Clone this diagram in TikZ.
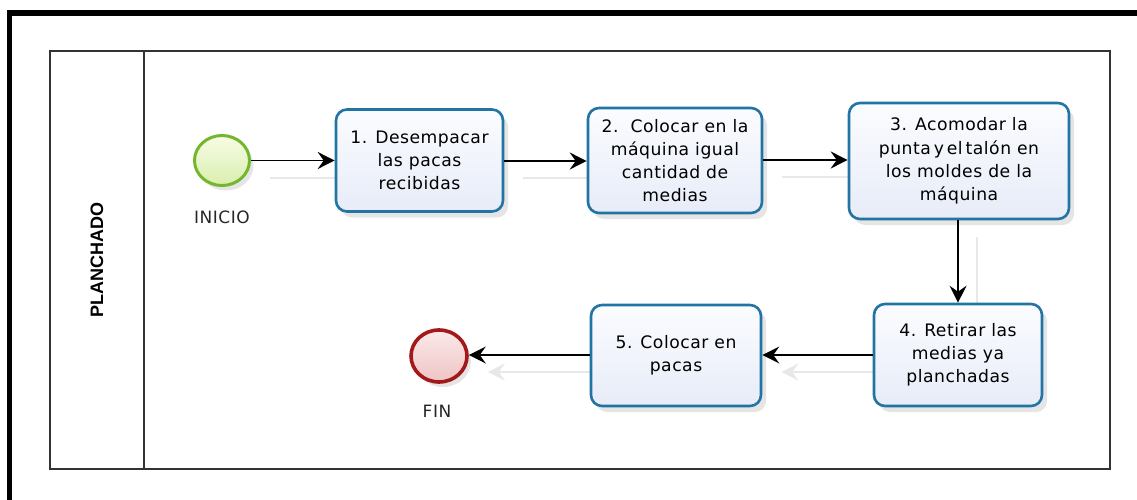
\documentclass[tikz,border=0pt]{standalone}
\usepackage{fontspec}
\setmainfont{DejaVu Sans}
\newfontfamily\boxfont[LetterSpace=3]{DejaVu Sans}
\newfontfamily\lanefont{Liberation Sans}
\usetikzlibrary{shapes.geometric,arrows.meta,shadows,backgrounds}
\definecolor{taskb}{HTML}{2274A5}
\definecolor{tasktop}{HTML}{FBFCFF}
\definecolor{taskbot}{HTML}{E7ECF8}
\definecolor{startb}{HTML}{74B72E}
\definecolor{starttop}{HTML}{F8FCE6}
\definecolor{startbot}{HTML}{D9EEAE}
\definecolor{endb}{HTML}{A31818}
\definecolor{endtop}{HTML}{FBE9E9}
\definecolor{endbot}{HTML}{EFC4C4}
\definecolor{poolc}{HTML}{333333}
\definecolor{shadowc}{HTML}{E8E8E8}
\begin{document}
\begin{tikzpicture}[x=1pt,y=-1pt,
  task/.style={draw=taskb, line width=2.6pt, rounded corners=11pt,
    top color=tasktop, bottom color=taskbot, align=center, inner sep=0pt,
    font=\boxfont\fontsize{17.2}{23.2}\selectfont, text=black,
    drop shadow={shadow xshift=5pt, shadow yshift=-6pt, opacity=0.10, fill=black}},
  startev/.style={ellipse, draw=startb, line width=3pt, top color=starttop, bottom color=startbot,
    minimum width=55pt, minimum height=50pt, inner sep=0pt,
    drop shadow={shadow xshift=4pt, shadow yshift=-5pt, opacity=0.10, fill=black}},
  endev/.style={ellipse, draw=endb, line width=3.6pt, top color=endtop, bottom color=endbot,
    minimum width=56pt, minimum height=52pt, inner sep=0pt,
    drop shadow={shadow xshift=4pt, shadow yshift=-5pt, opacity=0.10, fill=black}},
  evlabel/.style={font=\boxfont\fontsize{17}{18}\selectfont, text=black!85, inner sep=0pt},
  flow/.style={line width=1.5pt, -{Stealth[length=17pt,width=17pt,inset=6pt]}},
  flowshadow/.style={line width=2pt, draw=shadowc, -{Stealth[length=17pt,width=17pt,inset=6pt]}},
]
\useasboundingbox (0,0) rectangle (1137,500);
\begin{scope}
\clip (0,0) rectangle (1137,500);
\draw[line width=5.5pt] (9.5,520) -- (9.5,13) -- (1160,13);
\end{scope}

% pool and lane
\draw[draw=poolc, line width=1.6pt] (50,51) rectangle (1110,469);
\draw[draw=poolc, line width=1.6pt] (144,51) -- (144,469);
\node[rotate=90, font=\lanefont\bfseries\fontsize{18}{20}\selectfont, inner sep=0pt] (lane) at (97,260) {PLANCHADO};

% events
\node[startev] (start) at (222,160.5) {};
\node[evlabel] (startL) at (222,217) {INICIO};
\node[endev] (fin) at (439,356) {};
\node[evlabel] (finL) at (437,411.5) {FIN};

% tasks
\node[task, minimum width=167pt, minimum height=102pt] (t1) at (419.5,160.5)
  {1. Desempacar\\las pacas\\recibidas};
\node[task, minimum width=174pt, minimum height=105pt] (t2) at (675,160.5)
  {2.\ \ Colocar en la\\máquina igual\\cantidad de\\medias};
\node[task, minimum width=220pt, minimum height=116pt] (t3) at (959,161)
  {3. Acomodar la\\punta\,y\,el\,talón en\\los moldes de la\\máquina};
\node[task, minimum width=168pt, minimum height=102pt] (t4) at (958,355)
  {4. Retirar las\\medias ya\\planchadas};
\node[task, minimum width=170pt, minimum height=101pt] (t5) at (676,355.5)
  {5. Colocar en\\pacas};

% connector shadows
\begin{pgfonlayer}{background}
\begin{scope}[transform canvas={shift={(19pt,-17pt)}}]
\draw[flowshadow] (start.east) -- (t1.west |- start.east);
\draw[flowshadow] (t1.east |- 0,161) -- (t2.west |- 0,161);
\draw[flowshadow] (t2.east |- 0,160) -- (t3.west |- 0,160);
\draw[flowshadow] (t3.south -| 958,0) -- (t4.north -| 958,0);
\draw[flowshadow] (t4.west |- 0,355) -- (t5.east |- 0,355);
\draw[flowshadow] (t5.west |- 0,355) -- (fin.east |- 0,355);
\end{scope}
\end{pgfonlayer}

% connectors
\draw[flow] (start.east) -- (t1.west |- start.east);
\draw[flow] (t1.east |- 0,161) -- (t2.west |- 0,161);
\draw[flow] (t2.east |- 0,160) -- (t3.west |- 0,160);
\draw[flow] (t3.south -| 958,0) -- (t4.north -| 958,0);
\draw[flow] (t4.west |- 0,355) -- (t5.east |- 0,355);
\draw[flow] (t5.west |- 0,355) -- (fin.east |- 0,355);
\end{tikzpicture}
\end{document}
